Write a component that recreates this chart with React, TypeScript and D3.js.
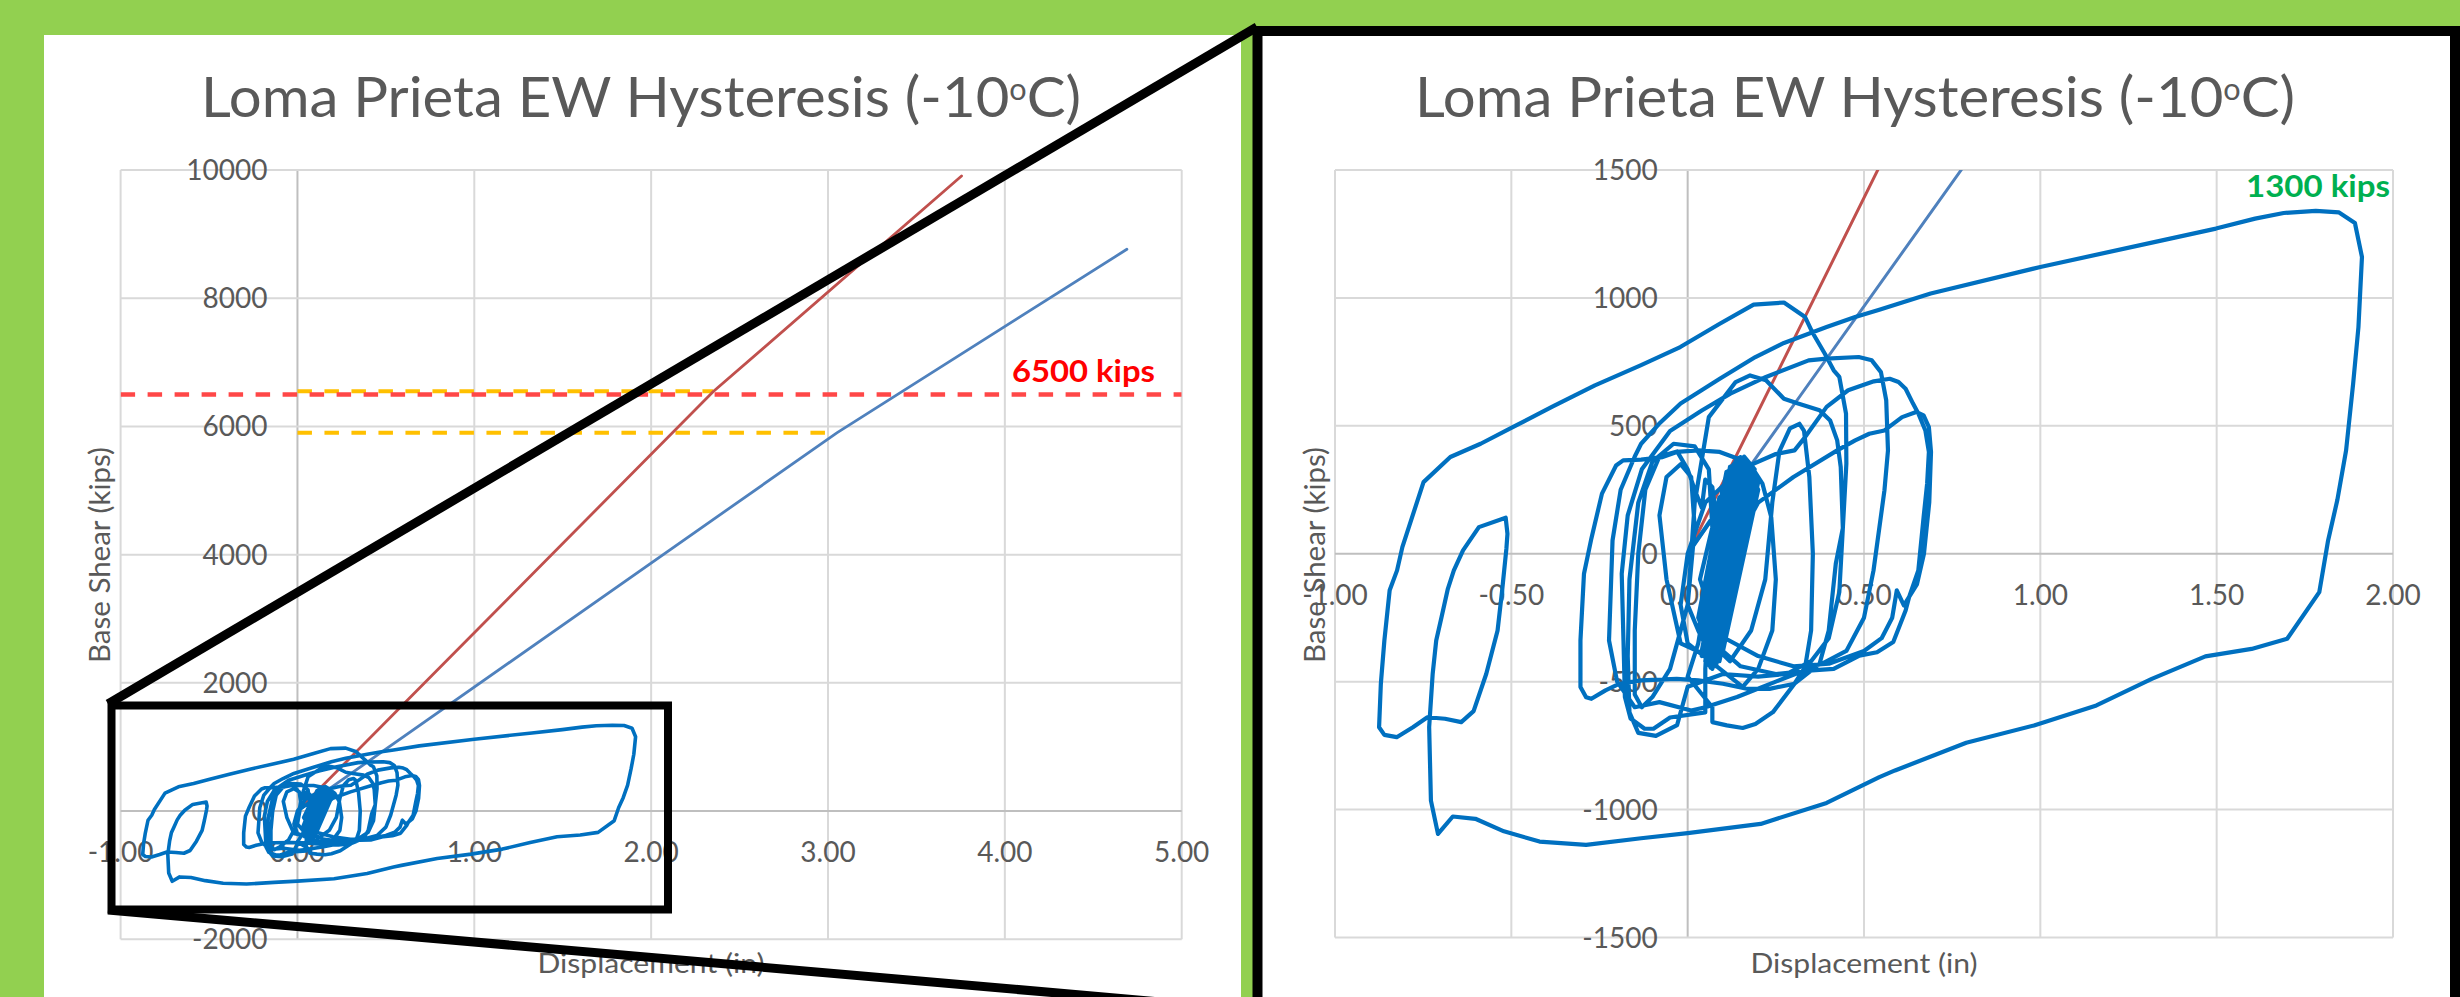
import React from 'react';
import * as d3 from 'd3';

// ---------- data ----------
// displacement (in), base shear (kips) — one continuous hysteresis trace
const hysteresis: [number, number][] = [
  // start and small cycles at the centre
  [0.0, 0], [0.06, 120], [0.1, 200], [0.12, 180], [0.05, -150],
  [0.04, -200], [0.13, 280], [0.16, 260], [0.07, -260],
  [0.05, -300], [0.15, 350], [0.17, 310], [0.08, -330],
  [0.06, -340], [0.14, 370], [0.18, 300], [0.09, -350],
  [0.07, -360], [0.15, 378], [0.19, 250], [0.1, -300],
  [0.05, -270], [0.12, 330], [0.165, 340], [0.085, -340],
  [0.04, -230], [0.11, 300], [0.155, 320], [0.075, -365],
  [0.055, -330], [0.135, 360], [0.175, 330], [0.095, -320],
  [0.04, -400], [0.16, 380], [0.19, 330], [0.07, -450],
  [0.05, -420], [0.15, 360], [0.195, 300], [0.08, -440],
  [0.03, -300], [0.13, 350], [0.18, 350], [0.06, -430],
  [0.04, -380], [0.145, 375], [0.2, 280], [0.09, -420],
  // loops just left of the centre
  [-0.02, -350], [-0.06, -100], [-0.08, 150], [-0.06, 300], [-0.02, 350], [0.01, 300], [0.02, 100], [0.0, -200],
  [-0.05, -450], [-0.1, -560], [-0.13, -600], [-0.15, -550], [-0.15, -300], [-0.14, 0], [-0.12, 250], [-0.08, 380],
  [-0.03, 400], [0.0, 330], [0.02, 250], [0.04, 180], [0.05, 290], [0.07, 260], [0.08, 150], [0.06, -100], [0.03, -350], [0.0, -480],
  // loop with bottom near 0.15
  [0.07, -600], [0.07, -658], [0.111, -671], [0.156, -681], [0.192, -665], [0.242, -619], [0.303, -508], [0.333, -443],
  [0.35, -300], [0.355, 0], [0.345, 300], [0.33, 480], [0.317, 508], [0.29, 490], [0.26, 400], [0.24, 200], [0.22, -100],
  [0.18, -300], [0.12, -420], [0.03, -300],
  // loop with bumped top near 0.18
  [0.0, -200], [0.02, 200], [0.06, 534], [0.136, 671], [0.177, 697], [0.222, 678], [0.273, 606], [0.313, 587],
  [0.374, 561], [0.404, 521], [0.424, 443], [0.434, 339], [0.44, 100], [0.43, -150], [0.4, -330], [0.35, -420],
  [0.28, -470], [0.2, -480], [0.1, -470], [0.0, -520],
  // deeper loop, bottom near -700
  [-0.03, -670], [-0.09, -712], [-0.14, -700], [-0.165, -620], [-0.17, -400], [-0.165, -100], [-0.14, 200],
  [-0.1, 360], [-0.04, 430], [0.02, 420], [0.06, 330], [0.07, 100], [0.06, -200], [0.05, -450], [0.05, -620],
  // wide loop, top near 0.48
  [-0.05, -640], [-0.097, -684], [-0.122, -684], [-0.162, -644], [-0.178, -560], [-0.182, -339], [-0.187, -78],
  [-0.17, 150], [-0.13, 330], [-0.05, 480], [0.04, 560], [0.121, 626], [0.222, 691], [0.343, 756], [0.394, 763],
  [0.485, 769], [0.522, 756], [0.548, 710], [0.563, 600], [0.568, 404], [0.558, 248], [0.527, -65], [0.5, -250],
  [0.45, -380], [0.38, -430], [0.25, -500], [0.14, -560], [0.05, -600], [0.01, -613],
  [-0.08, -580], [-0.15, -600], [-0.2, -500], [-0.223, -339], [-0.213, 52], [-0.19, 250], [-0.15, 380],
  // the large excursion
  [-0.132, 430], [-0.081, 508], [-0.02, 587], [0.091, 684], [0.192, 769], [0.273, 824], [0.394, 886], [0.475, 925],
  [0.5435, 954], [0.689, 1017], [1.0, 1121], [1.326, 1219], [1.498, 1271], [1.609, 1310], [1.69, 1332], [1.781, 1340],
  [1.847, 1334], [1.892, 1293], [1.912, 1160], [1.902, 886], [1.887, 665], [1.867, 404], [1.842, 209], [1.816, 52],
  [1.791, -150], [1.7, -332], [1.599, -372], [1.468, -401], [1.316, -489], [1.159, -593], [0.982, -671], [0.79, -739],
  [0.588, -847], [0.5435, -873], [0.394, -974], [0.207, -1056], [0.0, -1092], [-0.132, -1112], [-0.288, -1138],
  [-0.42, -1125], [-0.521, -1085], [-0.602, -1036], [-0.666, -1027], [-0.708, -1095], [-0.728, -965], [-0.733, -678],
  [-0.723, -469], [-0.713, -339], [-0.698, -248], [-0.68, -137], [-0.663, -65], [-0.637, 13], [-0.592, 104],
  [-0.516, 141], [-0.511, 78], [-0.514, 20], [-0.526, -143], [-0.539, -300], [-0.571, -469], [-0.607, -615],
  [-0.642, -658], [-0.688, -645], [-0.738, -639], [-0.779, -678], [-0.825, -717], [-0.86, -708], [-0.875, -678],
  [-0.87, -508], [-0.86, -339], [-0.845, -143], [-0.824, -65], [-0.809, 26], [-0.749, 280], [-0.673, 378],
  [-0.587, 430], [-0.496, 495], [-0.385, 574], [-0.263, 658], [-0.132, 737], [-0.021, 808], [0.091, 899],
  [0.187, 974], [0.273, 982], [0.333, 925], [0.353, 867], [0.389, 782], [0.414, 717], [0.43, 691], [0.449, 548],
  [0.45, 352], [0.44, 100], [0.42, -39], [0.4, -300], [0.374, -430],
  // leftmost medium loop (flat top, bottom along -500)
  [0.303, -508], [0.232, -528], [0.171, -528], [0.1, -508], [0.03, -495], [-0.031, -489], [-0.132, -495],
  [-0.193, -508], [-0.233, -534], [-0.273, -567], [-0.288, -561], [-0.304, -521], [-0.304, -339], [-0.294, -78],
  [-0.273, 60], [-0.243, 235], [-0.203, 345], [-0.183, 365], [-0.132, 368], [-0.071, 378], [-0.031, 398], [0.03, 404],
  [0.091, 398], [0.141, 372], [0.182, 339], [0.212, 274], [0.237, 143], [0.25, -100], [0.24, -300], [0.2, -450],
  [0.156, -520], [0.0, -350],
  // right-hand loops
  [-0.02, -200], [0.0, 0], [0.05, 200], [0.15, 330], [0.25, 390], [0.303, 404], [0.333, 456], [0.394, 574],
  [0.455, 639], [0.528, 674], [0.573, 684], [0.598, 671], [0.618, 645], [0.639, 587], [0.654, 548], [0.674, 482],
  [0.684, 398], [0.679, 274], [0.669, 143], [0.654, -65], [0.628, -169], [0.618, -222], [0.583, -345], [0.537, -385],
  [0.487, -398], [0.414, -450], [0.353, -456], [0.25, -470], [0.15, -440], [0.1, -380],
  [0.1, -300], [0.12, 0], [0.2, 200], [0.3, 300], [0.424, 404], [0.475, 443], [0.515, 469], [0.558, 482], [0.608, 534],
  [0.648, 554], [0.669, 541], [0.684, 495], [0.69, 398], [0.685, 200], [0.67, 0], [0.65, -120], [0.613, -202],
  [0.593, -143], [0.58, -250], [0.55, -330], [0.5, -380], [0.4, -430], [0.3, -440], [0.2, -400],
  // decaying cycles at the centre
  [0.065, -300], [0.145, 340], [0.19, 200], [0.11, -260], [0.045, -180], [0.1, 260], [0.14, 300], [0.06, -280],
  [0.035, -330], [0.12, 340], [0.17, 360], [0.065, -445], [0.045, -350], [0.14, 365], [0.19, 320], [0.075, -400],
  [0.03, -250], [0.11, 320], [0.16, 350], [0.06, -380], [0.05, -360], [0.155, 370], [0.2, 250], [0.1, -380],
  [0.035, -100], [0.09, 220], [0.13, 250], [0.05, -200], [0.05, -240], [0.125, 320], [0.16, 300], [0.08, -300],
  [0.06, -310], [0.14, 350], [0.17, 280], [0.09, -290], [0.07, -250], [0.15, 300], [0.185, 230], [0.1, -220],
  [0.08, -200], [0.16, 260], [0.19, 180], [0.11, -150], [0.09, -100], [0.14, 150], [0.16, 120], [0.11, -50], [0.12, 20],
];

const redStiffness: [number, number][] = [[0, 0], [2.35, 6540], [3.755, 9906]];
const blueStiffness: [number, number][] = [[0, 0], [3.05, 5900], [4.69, 8763]];
const capacityLevel = 6500;
const upperBound: [number, number][] = [[0, 6550], [2.35, 6550]];
const lowerBound: [number, number][] = [[0, 5900], [3.05, 5900]];

const titleText = 'Loma Prieta EW Hysteresis (-10';
const capacityLabel = '6500 kips';
const peakLabel = '1300 kips';
const xTitle = 'Displacement (in)';
const yTitle = 'Base Shear (kips)';

const leftXTicks = [-1, 0, 1, 2, 3, 4, 5];
const leftYTicks = [-2000, 0, 2000, 4000, 6000, 8000, 10000];
const rightXTicks = [-1, -0.5, 0, 0.5, 1, 1.5, 2];
const rightYTicks = [-1500, -1000, -500, 0, 500, 1000, 1500];

// ---------- drawing ----------
const FONT = 'Lato, "Open Sans", sans-serif';
const GREY = '#595959';

type Scale = d3.ScaleLinear<number, number>;

function Chart(props: {
  x: Scale; y: Scale; xTicks: number[]; yTicks: number[]; id: string;
  titleX: number; yTitleX: number; xTitleX: number; hystWidth: number; lineWidth: number;
  left: boolean;
}) {
  const { x, y, xTicks, yTicks, id, titleX, yTitleX, xTitleX, hystWidth, lineWidth, left } = props;
  const [px0, px1] = x.range();
  const [py0, py1] = y.range(); // py0 = bottom, py1 = top
  const line = d3.line<[number, number]>().x(d => x(d[0])).y(d => y(d[1]));
  const x0 = x(0);
  const y0 = y(0);
  return (
    <g>
      <defs>
        <clipPath id={id}>
          <rect x={px0} y={py1} width={px1 - px0} height={py0 - py1} />
        </clipPath>
      </defs>
      {/* title */}
      <text x={titleX} y={117} textAnchor="middle" fontFamily={FONT} fontSize={57} fill={GREY}
        textLength={880} lengthAdjust="spacingAndGlyphs">
        {titleText}<tspan fontSize={30} dy={-17}>o</tspan><tspan dy={17}>C)</tspan>
      </text>
      {/* gridlines */}
      {xTicks.map(t => (
        <line key={'gx' + t} x1={x(t)} x2={x(t)} y1={py1} y2={py0} stroke={t === 0 ? '#BFBFBF' : '#D9D9D9'} strokeWidth={2} />
      ))}
      {yTicks.map(t => (
        <line key={'gy' + t} x1={px0} x2={px1} y1={y(t)} y2={y(t)} stroke={t === 0 ? '#BFBFBF' : '#D9D9D9'} strokeWidth={2} />
      ))}
      {/* tick labels */}
      {yTicks.map(t => (
        <text key={'ly' + t} x={x0 - 30} y={y(t) + 10} textAnchor="end" fontFamily={FONT} fontSize={28} fill={GREY}>{t}</text>
      ))}
      {xTicks.map(t => (
        <text key={'lx' + t} x={x(t)} y={y0 + 51} textAnchor="middle" fontFamily={FONT} fontSize={28} fill={GREY}>{t.toFixed(2)}</text>
      ))}
      {/* axis titles */}
      <text x={xTitleX} y={973} textAnchor="middle" fontFamily={FONT} fontSize={26} fill={GREY}
        textLength={227} lengthAdjust="spacingAndGlyphs">{xTitle}</text>
      <text transform={`translate(${yTitleX},555) rotate(-90)`} textAnchor="middle" fontFamily={FONT} fontSize={28} fill={GREY}
        textLength={216} lengthAdjust="spacingAndGlyphs">{yTitle}</text>
      {/* series */}
      <g clipPath={`url(#${id})`}>
        {left && (
          <g>
            <path d={line(upperBound) || ''} fill="none" stroke="#FFC000" strokeWidth={4} strokeDasharray="14.5 12.5" />
            <path d={line(lowerBound) || ''} fill="none" stroke="#FFC000" strokeWidth={4} strokeDasharray="14.5 12.5" />
            <path d={line([[-1, capacityLevel], [5, capacityLevel]]) || ''} fill="none" stroke="#FF4747" strokeWidth={4.5} strokeDasharray="14.5 12.5" />
          </g>
        )}
        <path d={line(redStiffness) || ''} fill="none" stroke="#C0504D" strokeWidth={lineWidth} strokeLinecap="round" />
        <path d={line(blueStiffness) || ''} fill="none" stroke="#4F81BD" strokeWidth={lineWidth} strokeLinecap="round" />
        <path d={line(hysteresis) || ''} fill="none" stroke="#0070C0" strokeWidth={hystWidth} strokeLinejoin="round" strokeLinecap="round" />
      </g>
    </g>
  );
}

export default function App() {
  const xL = d3.scaleLinear().domain([-1, 5]).range([120.6, 1181.7]);
  const yL = d3.scaleLinear().domain([-2000, 10000]).range([939.3, 170]);
  const xR = d3.scaleLinear().domain([-1, 2]).range([1335, 2393]);
  const yR = d3.scaleLinear().domain([-1500, 1500]).range([937.5, 170]);

  return (
    <svg width={2460} height={997} style={{ position: 'absolute', left: 0, top: 0, display: 'block' }}
      xmlns="http://www.w3.org/2000/svg">
      <rect x={0} y={0} width={2460} height={997} fill="#92D050" />
      {/* left panel */}
      <rect x={44} y={35} width={1197} height={970} fill="#FFFFFF" />
      <Chart x={xL} y={yL} xTicks={leftXTicks} yTicks={leftYTicks} id="clipL" titleX={641}
        yTitleX={110} xTitleX={651} hystWidth={3.6} lineWidth={2.8} left={true} />
      <text x={1012} y={381.5} fontFamily={FONT} fontWeight="bold" fontSize={31} fill="#FF0000"
        textLength={143} lengthAdjust="spacingAndGlyphs">{capacityLabel}</text>
      {/* zoom box */}
      <rect x={111.5} y={705.5} width={556.5} height={204} fill="none" stroke="#000" strokeWidth={8} />
      {/* right panel */}
      <rect x={1257.5} y={31} width={1197.5} height={1000} fill="#FFFFFF" stroke="#000" strokeWidth={10} />
      <Chart x={xR} y={yR} xTicks={rightXTicks} yTicks={rightYTicks} id="clipR" titleX={1855}
        yTitleX={1325} xTitleX={1864} hystWidth={4.2} lineWidth={3} left={false} />
      <text x={2246} y={196.5} fontFamily={FONT} fontWeight="bold" fontSize={31} fill="#00B050"
        textLength={144} lengthAdjust="spacingAndGlyphs">{peakLabel}</text>
      {/* connector lines */}
      <line x1={108} y1={704} x2={1257} y2={27} stroke="#000" strokeWidth={9} />
      <line x1={108} y1={910} x2={1252} y2={1010} stroke="#000" strokeWidth={9} />
    </svg>
  );
}
